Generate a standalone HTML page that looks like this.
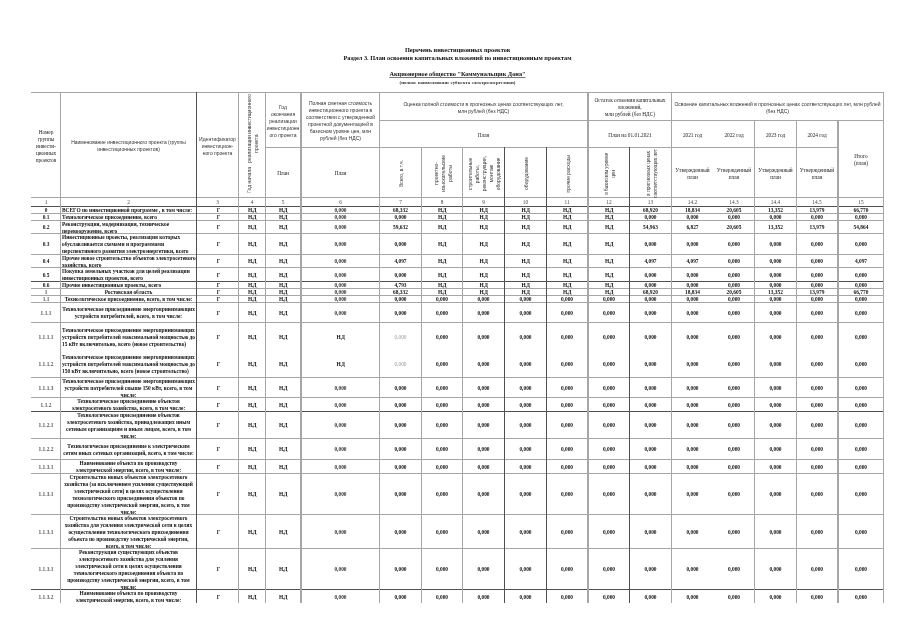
<!DOCTYPE html>
<html lang="ru"><head><meta charset="utf-8"><title>Перечень инвестиционных проектов</title>
<style>
*{margin:0;padding:0;box-sizing:border-box}
html,body{width:905px;height:640px;background:#fff;overflow:hidden}
#p{position:relative;width:905px;height:640px;background:#fff}
.l{position:absolute}
.c{position:absolute;display:flex;align-items:center;justify-content:center;text-align:center;overflow:visible;white-space:nowrap}
.c span{display:block}
.hd{font-family:"Liberation Sans",sans-serif;font-size:5px;line-height:7px;color:#333;padding-top:2.4px}
.hd.sf{font-family:"Liberation Serif",serif;font-size:5.3px;color:#222}
.hd.dk{color:#111}
.hd.rot{padding-top:2px;padding-left:2.5px}
.rot span{writing-mode:vertical-rl;transform:rotate(180deg)}
.num{font-family:"Liberation Serif",serif;font-size:5.3px;line-height:7px;color:#444;padding-top:1px}
.lab{font-family:"Liberation Serif",serif;font-weight:bold;font-size:5.4px;line-height:7px;color:#555;padding-top:1.4px}
.lab.bb{font-weight:bold;color:#111}
.t{font-family:"Liberation Serif",serif;font-size:5.7px;line-height:7px;color:#111;padding:1.4px 1px 0 1px}
.t.m{font-weight:bold;font-size:5.4px}
.t.jl{justify-content:flex-start;text-align:left}
.t.b{font-weight:bold;font-size:5.4px}
.t.left{justify-content:flex-start;text-align:left}
.v{font-family:"Liberation Serif",serif;font-weight:bold;font-size:5.4px;line-height:7px;color:#111;padding-top:1.8px}
.v.g{padding-left:2px;color:#222}
.v.lt{font-weight:normal;color:#999}
.v.nd{font-size:5.4px;letter-spacing:-0.45px}
.v.c6{font-size:5.4px;color:#333}
.tt{position:absolute;left:0;width:915px;text-align:center;font-family:"Liberation Serif",serif;font-weight:bold;font-size:6.3px;line-height:8px;color:#111;white-space:nowrap}
.ts{position:absolute;left:0;width:915px;text-align:center;font-family:"Liberation Serif",serif;font-weight:bold;font-size:4.9px;line-height:6px;color:#333;white-space:nowrap}
.tt u{text-decoration-color:#777}
</style></head>
<body><div id="p">

<div class="tt" style="top:46px">Перечень инвестиционных проектов</div>
<div class="tt" style="top:54px">Раздел 3. План освоения капитальных вложений по инвестиционным проектам</div>
<div class="tt" style="top:70px"><u>Акционерное общество "Коммунальщик Дона"</u></div>
<div class="ts" style="top:80px">(полное наименование субъекта электроэнергетики)</div>

<div class="l" style="left:31px;top:92px;width:853px;height:1px;background:#a6a6a6"></div><div class="l" style="left:379px;top:120px;width:505px;height:1px;background:#a6a6a6"></div><div class="l" style="left:265px;top:147px;width:573px;height:1px;background:#a6a6a6"></div><div class="l" style="left:31px;top:197px;width:853px;height:1px;background:#a6a6a6"></div><div class="l" style="left:31px;top:206px;width:853px;height:1px;background:#505050"></div><div class="l" style="left:31px;top:213px;width:853px;height:1px;background:#a6a6a6"></div><div class="l" style="left:31px;top:220px;width:853px;height:1px;background:#a6a6a6"></div><div class="l" style="left:31px;top:233px;width:853px;height:1px;background:#a6a6a6"></div><div class="l" style="left:31px;top:254px;width:853px;height:1px;background:#a6a6a6"></div><div class="l" style="left:31px;top:267px;width:853px;height:1px;background:#a6a6a6"></div><div class="l" style="left:31px;top:281px;width:853px;height:1px;background:#505050"></div><div class="l" style="left:31px;top:288px;width:853px;height:1px;background:#a6a6a6"></div><div class="l" style="left:31px;top:295px;width:853px;height:1px;background:#a6a6a6"></div><div class="l" style="left:31px;top:302px;width:853px;height:1px;background:#a6a6a6"></div><div class="l" style="left:31px;top:322px;width:853px;height:1px;background:#a6a6a6"></div><div class="l" style="left:31px;top:377px;width:853px;height:1px;background:#a6a6a6"></div><div class="l" style="left:31px;top:397px;width:853px;height:1px;background:#a6a6a6"></div><div class="l" style="left:31px;top:411px;width:853px;height:1px;background:#505050"></div><div class="l" style="left:31px;top:438px;width:853px;height:1px;background:#a6a6a6"></div><div class="l" style="left:31px;top:459px;width:853px;height:1px;background:#a6a6a6"></div><div class="l" style="left:31px;top:473px;width:853px;height:1px;background:#a6a6a6"></div><div class="l" style="left:31px;top:514px;width:853px;height:1px;background:#a6a6a6"></div><div class="l" style="left:31px;top:548px;width:853px;height:1px;background:#a6a6a6"></div><div class="l" style="left:31px;top:589px;width:853px;height:1px;background:#505050"></div><div class="l" style="left:60px;top:92px;width:1px;height:511px;background:#a6a6a6"></div><div class="l" style="left:196px;top:92px;width:1px;height:511px;background:#505050"></div><div class="l" style="left:238px;top:92px;width:1px;height:511px;background:#a6a6a6"></div><div class="l" style="left:265px;top:92px;width:1px;height:511px;background:#a6a6a6"></div><div class="l" style="left:300px;top:92px;width:2px;height:511px;background:#a6a6a6"></div><div class="l" style="left:379px;top:92px;width:1px;height:511px;background:#a6a6a6"></div><div class="l" style="left:587px;top:92px;width:2px;height:511px;background:#a6a6a6"></div><div class="l" style="left:671px;top:92px;width:1px;height:511px;background:#a6a6a6"></div><div class="l" style="left:883px;top:92px;width:1px;height:511px;background:#a6a6a6"></div><div class="l" style="left:421px;top:147px;width:1px;height:456px;background:#a6a6a6"></div><div class="l" style="left:462px;top:147px;width:1px;height:456px;background:#a6a6a6"></div><div class="l" style="left:504px;top:147px;width:1px;height:456px;background:#505050"></div><div class="l" style="left:546px;top:147px;width:1px;height:456px;background:#505050"></div><div class="l" style="left:629px;top:147px;width:1px;height:456px;background:#505050"></div><div class="l" style="left:754px;top:120px;width:1px;height:483px;background:#a6a6a6"></div><div class="l" style="left:796px;top:120px;width:1px;height:483px;background:#a6a6a6"></div><div class="l" style="left:837px;top:120px;width:2px;height:483px;background:#a6a6a6"></div><div class="c hd sf" style="left:32px;top:93px;width:28px;height:104px;"><span>Номер<br>группы<br>инвести-<br>ционных<br>проектов</span></div><div class="c hd" style="left:61px;top:93px;width:135px;height:104px;"><span>Наименование инвестиционного проекта (группы<br>инвестиционных проектов)</span></div><div class="c hd" style="left:197px;top:93px;width:41px;height:104px;"><span>Идентификатор<br>инвестицион-<br>ного проекта</span></div><div class="c hd rot" style="left:239px;top:93px;width:26px;height:104px;padding-top:0;padding-bottom:2.4px"><span>Год начала&nbsp;&nbsp; реализации инвестиционного<br>проекта</span></div><div class="c hd" style="left:266px;top:93px;width:34px;height:54px;"><span>Год<br>окончания<br>реализации<br>инвестиционн<br>ого проекта</span></div><div class="c hd sf dk" style="left:266px;top:148px;width:34px;height:49px;"><span>План</span></div><div class="c hd" style="left:302px;top:93px;width:77px;height:54px;"><span>Полная сметная стоимость<br>инвестиционного проекта в<br>соответствии с утвержденной<br>проектной документацией в<br>базисном уровне цен, млн<br>рублей (без НДС)</span></div><div class="c hd sf dk" style="left:302px;top:148px;width:77px;height:49px;"><span>План</span></div><div class="c hd" style="left:380px;top:93px;width:207px;height:27px;"><span>Оценка полной стоимости в прогнозных ценах соответствующих лет,<br>млн рублей (без НДС)</span></div><div class="c hd sf" style="left:380px;top:121px;width:207px;height:26px;"><span>План</span></div><div class="c hd rot" style="left:380px;top:148px;width:41px;height:49px;"><span>Всего, в т.ч.</span></div><div class="c hd rot" style="left:422px;top:148px;width:40px;height:49px;"><span>проектно-<br>изыскательские<br>работы</span></div><div class="c hd rot" style="left:463px;top:148px;width:41px;height:49px;"><span>строительные<br>работы,<br>реконструкция,<br>монтаж<br>оборудования</span></div><div class="c hd rot" style="left:505px;top:148px;width:41px;height:49px;"><span>оборудование</span></div><div class="c hd rot" style="left:547px;top:148px;width:40px;height:49px;"><span>прочие расходы</span></div><div class="c hd sf" style="left:589px;top:93px;width:82px;height:27px;"><span>Остаток освоения капитальных<br>вложений,<br>млн рублей (без НДС)</span></div><div class="c hd sf" style="left:589px;top:121px;width:82px;height:26px;"><span>План на 01.01.2021</span></div><div class="c hd sf rot" style="left:589px;top:148px;width:40px;height:49px;"><span>в базисном уровне<br>цен</span></div><div class="c hd sf rot" style="left:630px;top:148px;width:41px;height:49px;"><span>в прогнозных ценах<br>соответствующих лет</span></div><div class="c hd" style="left:672px;top:93px;width:211px;height:27px;"><span>Освоение капитальных вложений в прогнозных ценах соответствующих лет, млн рублей<br>(без НДС)</span></div><div class="c hd sf" style="left:672px;top:121px;width:41px;height:26px;"><span>2021 год</span></div><div class="c hd sf" style="left:672px;top:148px;width:41px;height:49px;"><span>Утвержденный<br>план</span></div><div class="c hd sf" style="left:714px;top:121px;width:40px;height:26px;"><span>2022 год</span></div><div class="c hd sf" style="left:714px;top:148px;width:40px;height:49px;"><span>Утвержденный<br>план</span></div><div class="c hd sf" style="left:755px;top:121px;width:41px;height:26px;"><span>2023 год</span></div><div class="c hd sf" style="left:755px;top:148px;width:41px;height:49px;"><span>Утвержденный<br>план</span></div><div class="c hd sf" style="left:797px;top:121px;width:40px;height:26px;"><span>2024 год</span></div><div class="c hd sf" style="left:797px;top:148px;width:40px;height:49px;"><span>Утвержденный<br>план</span></div><div class="c hd sf" style="left:839px;top:121px;width:44px;height:76px;"><span>Итого<br>(план)</span></div><div class="c num" style="left:32px;top:198px;width:28px;height:8px;"><span>1</span></div><div class="c num" style="left:61px;top:198px;width:135px;height:8px;"><span>2</span></div><div class="c num" style="left:197px;top:198px;width:41px;height:8px;"><span>3</span></div><div class="c num" style="left:239px;top:198px;width:26px;height:8px;"><span>4</span></div><div class="c num" style="left:266px;top:198px;width:34px;height:8px;"><span>5</span></div><div class="c num" style="left:302px;top:198px;width:77px;height:8px;"><span>6</span></div><div class="c num" style="left:380px;top:198px;width:41px;height:8px;"><span>7</span></div><div class="c num" style="left:422px;top:198px;width:40px;height:8px;"><span>8</span></div><div class="c num" style="left:463px;top:198px;width:41px;height:8px;"><span>9</span></div><div class="c num" style="left:505px;top:198px;width:41px;height:8px;"><span>10</span></div><div class="c num" style="left:547px;top:198px;width:40px;height:8px;"><span>11</span></div><div class="c num" style="left:589px;top:198px;width:40px;height:8px;"><span>12</span></div><div class="c num" style="left:630px;top:198px;width:41px;height:8px;"><span>13</span></div><div class="c num" style="left:672px;top:198px;width:41px;height:8px;"><span>14.2</span></div><div class="c num" style="left:714px;top:198px;width:40px;height:8px;"><span>14.3</span></div><div class="c num" style="left:755px;top:198px;width:41px;height:8px;"><span>14.4</span></div><div class="c num" style="left:797px;top:198px;width:40px;height:8px;"><span>14.5</span></div><div class="c num" style="left:839px;top:198px;width:44px;height:8px;"><span>15</span></div><div class="c lab bb" style="left:32px;top:207px;width:28px;height:6px;"><span>0</span></div><div class="c t b left" style="left:61px;top:207px;width:135px;height:6px;"><span>ВСЕГО по инвестиционной программе , в том числе:</span></div><div class="c v g" style="left:197px;top:207px;width:41px;height:6px;"><span>Г</span></div><div class="c v nd" style="left:239px;top:207px;width:26px;height:6px;"><span>Н.Д</span></div><div class="c v nd" style="left:266px;top:207px;width:34px;height:6px;"><span>Н.Д</span></div><div class="c v c6" style="left:302px;top:207px;width:77px;height:6px;"><span>0,000</span></div><div class="c v" style="left:380px;top:207px;width:41px;height:6px;"><span>68,332</span></div><div class="c v nd" style="left:422px;top:207px;width:40px;height:6px;"><span>Н.Д</span></div><div class="c v nd" style="left:463px;top:207px;width:41px;height:6px;"><span>Н.Д</span></div><div class="c v nd" style="left:505px;top:207px;width:41px;height:6px;"><span>Н.Д</span></div><div class="c v nd" style="left:547px;top:207px;width:40px;height:6px;"><span>Н.Д</span></div><div class="c v nd" style="left:589px;top:207px;width:40px;height:6px;"><span>Н.Д</span></div><div class="c v" style="left:630px;top:207px;width:41px;height:6px;"><span>68,920</span></div><div class="c v" style="left:672px;top:207px;width:41px;height:6px;"><span>18,834</span></div><div class="c v" style="left:714px;top:207px;width:40px;height:6px;"><span>20,605</span></div><div class="c v" style="left:755px;top:207px;width:41px;height:6px;"><span>13,352</span></div><div class="c v" style="left:797px;top:207px;width:40px;height:6px;"><span>13,979</span></div><div class="c v" style="left:839px;top:207px;width:44px;height:6px;"><span>66,770</span></div><div class="c lab bb" style="left:32px;top:214px;width:28px;height:6px;"><span>0.1</span></div><div class="c t b left" style="left:61px;top:214px;width:135px;height:6px;"><span>Технологическое присоединение, всего</span></div><div class="c v g" style="left:197px;top:214px;width:41px;height:6px;"><span>Г</span></div><div class="c v nd" style="left:239px;top:214px;width:26px;height:6px;"><span>Н.Д</span></div><div class="c v nd" style="left:266px;top:214px;width:34px;height:6px;"><span>Н.Д</span></div><div class="c v c6" style="left:302px;top:214px;width:77px;height:6px;"><span>0,000</span></div><div class="c v" style="left:380px;top:214px;width:41px;height:6px;"><span>0,000</span></div><div class="c v nd" style="left:422px;top:214px;width:40px;height:6px;"><span>Н.Д</span></div><div class="c v nd" style="left:463px;top:214px;width:41px;height:6px;"><span>Н.Д</span></div><div class="c v nd" style="left:505px;top:214px;width:41px;height:6px;"><span>Н.Д</span></div><div class="c v nd" style="left:547px;top:214px;width:40px;height:6px;"><span>Н.Д</span></div><div class="c v nd" style="left:589px;top:214px;width:40px;height:6px;"><span>Н.Д</span></div><div class="c v" style="left:630px;top:214px;width:41px;height:6px;"><span>0,000</span></div><div class="c v" style="left:672px;top:214px;width:41px;height:6px;"><span>0,000</span></div><div class="c v" style="left:714px;top:214px;width:40px;height:6px;"><span>0,000</span></div><div class="c v" style="left:755px;top:214px;width:41px;height:6px;"><span>0,000</span></div><div class="c v" style="left:797px;top:214px;width:40px;height:6px;"><span>0,000</span></div><div class="c v" style="left:839px;top:214px;width:44px;height:6px;"><span>0,000</span></div><div class="c lab bb" style="left:32px;top:221px;width:28px;height:12px;"><span>0.2</span></div><div class="c t b left" style="left:61px;top:221px;width:135px;height:12px;"><span>Реконструкция, модернизация, техническое<br>перевооружение, всего</span></div><div class="c v g" style="left:197px;top:221px;width:41px;height:12px;"><span>Г</span></div><div class="c v nd" style="left:239px;top:221px;width:26px;height:12px;"><span>Н.Д</span></div><div class="c v nd" style="left:266px;top:221px;width:34px;height:12px;"><span>Н.Д</span></div><div class="c v c6" style="left:302px;top:221px;width:77px;height:12px;"><span>0,000</span></div><div class="c v" style="left:380px;top:221px;width:41px;height:12px;"><span>59,632</span></div><div class="c v nd" style="left:422px;top:221px;width:40px;height:12px;"><span>Н.Д</span></div><div class="c v nd" style="left:463px;top:221px;width:41px;height:12px;"><span>Н.Д</span></div><div class="c v nd" style="left:505px;top:221px;width:41px;height:12px;"><span>Н.Д</span></div><div class="c v nd" style="left:547px;top:221px;width:40px;height:12px;"><span>Н.Д</span></div><div class="c v nd" style="left:589px;top:221px;width:40px;height:12px;"><span>Н.Д</span></div><div class="c v" style="left:630px;top:221px;width:41px;height:12px;"><span>54,963</span></div><div class="c v" style="left:672px;top:221px;width:41px;height:12px;"><span>6,827</span></div><div class="c v" style="left:714px;top:221px;width:40px;height:12px;"><span>20,605</span></div><div class="c v" style="left:755px;top:221px;width:41px;height:12px;"><span>13,352</span></div><div class="c v" style="left:797px;top:221px;width:40px;height:12px;"><span>13,979</span></div><div class="c v" style="left:839px;top:221px;width:44px;height:12px;"><span>54,864</span></div><div class="c lab bb" style="left:32px;top:234px;width:28px;height:20px;"><span>0.3</span></div><div class="c t b left" style="left:61px;top:234px;width:135px;height:20px;"><span>Инвестиционные проекты, реализация которых<br>обуславливается схемами и программами<br>перспективного развития электроэнергетики, всего</span></div><div class="c v g" style="left:197px;top:234px;width:41px;height:20px;"><span>Г</span></div><div class="c v nd" style="left:239px;top:234px;width:26px;height:20px;"><span>Н.Д</span></div><div class="c v nd" style="left:266px;top:234px;width:34px;height:20px;"><span>Н.Д</span></div><div class="c v c6" style="left:302px;top:234px;width:77px;height:20px;"><span>0,000</span></div><div class="c v" style="left:380px;top:234px;width:41px;height:20px;"><span>0,000</span></div><div class="c v nd" style="left:422px;top:234px;width:40px;height:20px;"><span>Н.Д</span></div><div class="c v nd" style="left:463px;top:234px;width:41px;height:20px;"><span>Н.Д</span></div><div class="c v nd" style="left:505px;top:234px;width:41px;height:20px;"><span>Н.Д</span></div><div class="c v nd" style="left:547px;top:234px;width:40px;height:20px;"><span>Н.Д</span></div><div class="c v nd" style="left:589px;top:234px;width:40px;height:20px;"><span>Н.Д</span></div><div class="c v" style="left:630px;top:234px;width:41px;height:20px;"><span>0,000</span></div><div class="c v" style="left:672px;top:234px;width:41px;height:20px;"><span>0,000</span></div><div class="c v" style="left:714px;top:234px;width:40px;height:20px;"><span>0,000</span></div><div class="c v" style="left:755px;top:234px;width:41px;height:20px;"><span>0,000</span></div><div class="c v" style="left:797px;top:234px;width:40px;height:20px;"><span>0,000</span></div><div class="c v" style="left:839px;top:234px;width:44px;height:20px;"><span>0,000</span></div><div class="c lab bb" style="left:32px;top:255px;width:28px;height:12px;"><span>0.4</span></div><div class="c t b left" style="left:61px;top:255px;width:135px;height:12px;"><span>Прочее новое строительство объектов электросетевого<br>хозяйства, всего</span></div><div class="c v g" style="left:197px;top:255px;width:41px;height:12px;"><span>Г</span></div><div class="c v nd" style="left:239px;top:255px;width:26px;height:12px;"><span>Н.Д</span></div><div class="c v nd" style="left:266px;top:255px;width:34px;height:12px;"><span>Н.Д</span></div><div class="c v c6" style="left:302px;top:255px;width:77px;height:12px;"><span>0,000</span></div><div class="c v" style="left:380px;top:255px;width:41px;height:12px;"><span>4,097</span></div><div class="c v nd" style="left:422px;top:255px;width:40px;height:12px;"><span>Н.Д</span></div><div class="c v nd" style="left:463px;top:255px;width:41px;height:12px;"><span>Н.Д</span></div><div class="c v nd" style="left:505px;top:255px;width:41px;height:12px;"><span>Н.Д</span></div><div class="c v nd" style="left:547px;top:255px;width:40px;height:12px;"><span>Н.Д</span></div><div class="c v nd" style="left:589px;top:255px;width:40px;height:12px;"><span>Н.Д</span></div><div class="c v" style="left:630px;top:255px;width:41px;height:12px;"><span>4,097</span></div><div class="c v" style="left:672px;top:255px;width:41px;height:12px;"><span>4,097</span></div><div class="c v" style="left:714px;top:255px;width:40px;height:12px;"><span>0,000</span></div><div class="c v" style="left:755px;top:255px;width:41px;height:12px;"><span>0,000</span></div><div class="c v" style="left:797px;top:255px;width:40px;height:12px;"><span>0,000</span></div><div class="c v" style="left:839px;top:255px;width:44px;height:12px;"><span>4,097</span></div><div class="c lab bb" style="left:32px;top:268px;width:28px;height:13px;"><span>0.5</span></div><div class="c t b left" style="left:61px;top:268px;width:135px;height:13px;"><span>Покупка земельных участков для целей реализации<br>инвестиционных проектов, всего</span></div><div class="c v g" style="left:197px;top:268px;width:41px;height:13px;"><span>Г</span></div><div class="c v nd" style="left:239px;top:268px;width:26px;height:13px;"><span>Н.Д</span></div><div class="c v nd" style="left:266px;top:268px;width:34px;height:13px;"><span>Н.Д</span></div><div class="c v c6" style="left:302px;top:268px;width:77px;height:13px;"><span>0,000</span></div><div class="c v" style="left:380px;top:268px;width:41px;height:13px;"><span>0,000</span></div><div class="c v nd" style="left:422px;top:268px;width:40px;height:13px;"><span>Н.Д</span></div><div class="c v nd" style="left:463px;top:268px;width:41px;height:13px;"><span>Н.Д</span></div><div class="c v nd" style="left:505px;top:268px;width:41px;height:13px;"><span>Н.Д</span></div><div class="c v nd" style="left:547px;top:268px;width:40px;height:13px;"><span>Н.Д</span></div><div class="c v nd" style="left:589px;top:268px;width:40px;height:13px;"><span>Н.Д</span></div><div class="c v" style="left:630px;top:268px;width:41px;height:13px;"><span>0,000</span></div><div class="c v" style="left:672px;top:268px;width:41px;height:13px;"><span>0,000</span></div><div class="c v" style="left:714px;top:268px;width:40px;height:13px;"><span>0,000</span></div><div class="c v" style="left:755px;top:268px;width:41px;height:13px;"><span>0,000</span></div><div class="c v" style="left:797px;top:268px;width:40px;height:13px;"><span>0,000</span></div><div class="c v" style="left:839px;top:268px;width:44px;height:13px;"><span>0,000</span></div><div class="c lab bb" style="left:32px;top:282px;width:28px;height:6px;"><span>0.6</span></div><div class="c t b left" style="left:61px;top:282px;width:135px;height:6px;"><span>Прочие инвестиционные проекты, всего</span></div><div class="c v g" style="left:197px;top:282px;width:41px;height:6px;"><span>Г</span></div><div class="c v nd" style="left:239px;top:282px;width:26px;height:6px;"><span>Н.Д</span></div><div class="c v nd" style="left:266px;top:282px;width:34px;height:6px;"><span>Н.Д</span></div><div class="c v c6" style="left:302px;top:282px;width:77px;height:6px;"><span>0,000</span></div><div class="c v" style="left:380px;top:282px;width:41px;height:6px;"><span>4,793</span></div><div class="c v nd" style="left:422px;top:282px;width:40px;height:6px;"><span>Н.Д</span></div><div class="c v nd" style="left:463px;top:282px;width:41px;height:6px;"><span>Н.Д</span></div><div class="c v nd" style="left:505px;top:282px;width:41px;height:6px;"><span>Н.Д</span></div><div class="c v nd" style="left:547px;top:282px;width:40px;height:6px;"><span>Н.Д</span></div><div class="c v nd" style="left:589px;top:282px;width:40px;height:6px;"><span>Н.Д</span></div><div class="c v" style="left:630px;top:282px;width:41px;height:6px;"><span>0,000</span></div><div class="c v" style="left:672px;top:282px;width:41px;height:6px;"><span>0,000</span></div><div class="c v" style="left:714px;top:282px;width:40px;height:6px;"><span>0,000</span></div><div class="c v" style="left:755px;top:282px;width:41px;height:6px;"><span>0,000</span></div><div class="c v" style="left:797px;top:282px;width:40px;height:6px;"><span>0,000</span></div><div class="c v" style="left:839px;top:282px;width:44px;height:6px;"><span>0,000</span></div><div class="c lab" style="left:32px;top:289px;width:28px;height:6px;"><span>1</span></div><div class="c t r m" style="left:61px;top:289px;width:135px;height:6px;"><span>Ростовская область</span></div><div class="c v g" style="left:197px;top:289px;width:41px;height:6px;"><span>Г</span></div><div class="c v nd" style="left:239px;top:289px;width:26px;height:6px;"><span>Н.Д</span></div><div class="c v nd" style="left:266px;top:289px;width:34px;height:6px;"><span>Н.Д</span></div><div class="c v c6" style="left:302px;top:289px;width:77px;height:6px;"><span>0,000</span></div><div class="c v" style="left:380px;top:289px;width:41px;height:6px;"><span>68,332</span></div><div class="c v nd" style="left:422px;top:289px;width:40px;height:6px;"><span>Н.Д</span></div><div class="c v nd" style="left:463px;top:289px;width:41px;height:6px;"><span>Н.Д</span></div><div class="c v nd" style="left:505px;top:289px;width:41px;height:6px;"><span>Н.Д</span></div><div class="c v nd" style="left:547px;top:289px;width:40px;height:6px;"><span>Н.Д</span></div><div class="c v nd" style="left:589px;top:289px;width:40px;height:6px;"><span>Н.Д</span></div><div class="c v" style="left:630px;top:289px;width:41px;height:6px;"><span>68,920</span></div><div class="c v" style="left:672px;top:289px;width:41px;height:6px;"><span>18,834</span></div><div class="c v" style="left:714px;top:289px;width:40px;height:6px;"><span>20,605</span></div><div class="c v" style="left:755px;top:289px;width:41px;height:6px;"><span>13,352</span></div><div class="c v" style="left:797px;top:289px;width:40px;height:6px;"><span>13,979</span></div><div class="c v" style="left:839px;top:289px;width:44px;height:6px;"><span>66,770</span></div><div class="c lab" style="left:32px;top:296px;width:28px;height:6px;"><span>1.1</span></div><div class="c t r m" style="left:61px;top:296px;width:135px;height:6px;"><span>Технологическое присоединение, всего, в том числе:</span></div><div class="c v g" style="left:197px;top:296px;width:41px;height:6px;"><span>Г</span></div><div class="c v nd" style="left:239px;top:296px;width:26px;height:6px;"><span>Н.Д</span></div><div class="c v nd" style="left:266px;top:296px;width:34px;height:6px;"><span>Н.Д</span></div><div class="c v c6" style="left:302px;top:296px;width:77px;height:6px;"><span>0,000</span></div><div class="c v" style="left:380px;top:296px;width:41px;height:6px;"><span>0,000</span></div><div class="c v" style="left:422px;top:296px;width:40px;height:6px;"><span>0,000</span></div><div class="c v" style="left:463px;top:296px;width:41px;height:6px;"><span>0,000</span></div><div class="c v" style="left:505px;top:296px;width:41px;height:6px;"><span>0,000</span></div><div class="c v" style="left:547px;top:296px;width:40px;height:6px;"><span>0,000</span></div><div class="c v" style="left:589px;top:296px;width:40px;height:6px;"><span>0,000</span></div><div class="c v" style="left:630px;top:296px;width:41px;height:6px;"><span>0,000</span></div><div class="c v" style="left:672px;top:296px;width:41px;height:6px;"><span>0,000</span></div><div class="c v" style="left:714px;top:296px;width:40px;height:6px;"><span>0,000</span></div><div class="c v" style="left:755px;top:296px;width:41px;height:6px;"><span>0,000</span></div><div class="c v" style="left:797px;top:296px;width:40px;height:6px;"><span>0,000</span></div><div class="c v" style="left:839px;top:296px;width:44px;height:6px;"><span>0,000</span></div><div class="c lab" style="left:32px;top:303px;width:28px;height:19px;"><span>1.1.1</span></div><div class="c t r m" style="left:61px;top:303px;width:135px;height:19px;"><span>Технологическое присоединение энергопринимающих<br>устройств потребителей, всего, в том числе:</span></div><div class="c v g" style="left:197px;top:303px;width:41px;height:19px;"><span>Г</span></div><div class="c v nd" style="left:239px;top:303px;width:26px;height:19px;"><span>Н.Д</span></div><div class="c v nd" style="left:266px;top:303px;width:34px;height:19px;"><span>Н.Д</span></div><div class="c v c6" style="left:302px;top:303px;width:77px;height:19px;"><span>0,000</span></div><div class="c v" style="left:380px;top:303px;width:41px;height:19px;"><span>0,000</span></div><div class="c v" style="left:422px;top:303px;width:40px;height:19px;"><span>0,000</span></div><div class="c v" style="left:463px;top:303px;width:41px;height:19px;"><span>0,000</span></div><div class="c v" style="left:505px;top:303px;width:41px;height:19px;"><span>0,000</span></div><div class="c v" style="left:547px;top:303px;width:40px;height:19px;"><span>0,000</span></div><div class="c v" style="left:589px;top:303px;width:40px;height:19px;"><span>0,000</span></div><div class="c v" style="left:630px;top:303px;width:41px;height:19px;"><span>0,000</span></div><div class="c v" style="left:672px;top:303px;width:41px;height:19px;"><span>0,000</span></div><div class="c v" style="left:714px;top:303px;width:40px;height:19px;"><span>0,000</span></div><div class="c v" style="left:755px;top:303px;width:41px;height:19px;"><span>0,000</span></div><div class="c v" style="left:797px;top:303px;width:40px;height:19px;"><span>0,000</span></div><div class="c v" style="left:839px;top:303px;width:44px;height:19px;"><span>0,000</span></div><div class="c lab" style="left:32px;top:323px;width:28px;height:27px;"><span>1.1.1.1</span></div><div class="c t r m jl" style="left:61px;top:323px;width:135px;height:27px;"><span>Технологическое присоединение энергопринимающих<br>устройств потребителей максимальной мощностью до<br>15 кВт включительно, всего (новое строительство)</span></div><div class="c v g" style="left:197px;top:323px;width:41px;height:27px;"><span>Г</span></div><div class="c v nd" style="left:239px;top:323px;width:26px;height:27px;"><span>Н.Д</span></div><div class="c v nd" style="left:266px;top:323px;width:34px;height:27px;"><span>Н.Д</span></div><div class="c v nd" style="left:302px;top:323px;width:77px;height:27px;"><span>Н.Д</span></div><div class="c v lt" style="left:380px;top:323px;width:41px;height:27px;"><span>0,000</span></div><div class="c v" style="left:422px;top:323px;width:40px;height:27px;"><span>0,000</span></div><div class="c v" style="left:463px;top:323px;width:41px;height:27px;"><span>0,000</span></div><div class="c v" style="left:505px;top:323px;width:41px;height:27px;"><span>0,000</span></div><div class="c v" style="left:547px;top:323px;width:40px;height:27px;"><span>0,000</span></div><div class="c v" style="left:589px;top:323px;width:40px;height:27px;"><span>0,000</span></div><div class="c v" style="left:630px;top:323px;width:41px;height:27px;"><span>0,000</span></div><div class="c v" style="left:672px;top:323px;width:41px;height:27px;"><span>0,000</span></div><div class="c v" style="left:714px;top:323px;width:40px;height:27px;"><span>0,000</span></div><div class="c v" style="left:755px;top:323px;width:41px;height:27px;"><span>0,000</span></div><div class="c v" style="left:797px;top:323px;width:40px;height:27px;"><span>0,000</span></div><div class="c v" style="left:839px;top:323px;width:44px;height:27px;"><span>0,000</span></div><div class="c lab" style="left:32px;top:350px;width:28px;height:27px;"><span>1.1.1.2</span></div><div class="c t r m jl" style="left:61px;top:350px;width:135px;height:27px;"><span>Технологическое присоединение энергопринимающих<br>устройств потребителей максимальной мощностью до<br>150 кВт включительно, всего (новое строительство)</span></div><div class="c v g" style="left:197px;top:350px;width:41px;height:27px;"><span>Г</span></div><div class="c v nd" style="left:239px;top:350px;width:26px;height:27px;"><span>Н.Д</span></div><div class="c v nd" style="left:266px;top:350px;width:34px;height:27px;"><span>Н.Д</span></div><div class="c v nd" style="left:302px;top:350px;width:77px;height:27px;"><span>Н.Д</span></div><div class="c v lt" style="left:380px;top:350px;width:41px;height:27px;"><span>0,000</span></div><div class="c v" style="left:422px;top:350px;width:40px;height:27px;"><span>0,000</span></div><div class="c v" style="left:463px;top:350px;width:41px;height:27px;"><span>0,000</span></div><div class="c v" style="left:505px;top:350px;width:41px;height:27px;"><span>0,000</span></div><div class="c v" style="left:547px;top:350px;width:40px;height:27px;"><span>0,000</span></div><div class="c v" style="left:589px;top:350px;width:40px;height:27px;"><span>0,000</span></div><div class="c v" style="left:630px;top:350px;width:41px;height:27px;"><span>0,000</span></div><div class="c v" style="left:672px;top:350px;width:41px;height:27px;"><span>0,000</span></div><div class="c v" style="left:714px;top:350px;width:40px;height:27px;"><span>0,000</span></div><div class="c v" style="left:755px;top:350px;width:41px;height:27px;"><span>0,000</span></div><div class="c v" style="left:797px;top:350px;width:40px;height:27px;"><span>0,000</span></div><div class="c v" style="left:839px;top:350px;width:44px;height:27px;"><span>0,000</span></div><div class="c lab" style="left:32px;top:378px;width:28px;height:19px;"><span>1.1.1.3</span></div><div class="c t r m" style="left:61px;top:378px;width:135px;height:19px;"><span>Технологическое присоединение энергопринимающих<br>устройств потребителей свыше 150 кВт, всего, в том<br>числе:</span></div><div class="c v g" style="left:197px;top:378px;width:41px;height:19px;"><span>Г</span></div><div class="c v nd" style="left:239px;top:378px;width:26px;height:19px;"><span>Н.Д</span></div><div class="c v nd" style="left:266px;top:378px;width:34px;height:19px;"><span>Н.Д</span></div><div class="c v c6" style="left:302px;top:378px;width:77px;height:19px;"><span>0,000</span></div><div class="c v" style="left:380px;top:378px;width:41px;height:19px;"><span>0,000</span></div><div class="c v" style="left:422px;top:378px;width:40px;height:19px;"><span>0,000</span></div><div class="c v" style="left:463px;top:378px;width:41px;height:19px;"><span>0,000</span></div><div class="c v" style="left:505px;top:378px;width:41px;height:19px;"><span>0,000</span></div><div class="c v" style="left:547px;top:378px;width:40px;height:19px;"><span>0,000</span></div><div class="c v" style="left:589px;top:378px;width:40px;height:19px;"><span>0,000</span></div><div class="c v" style="left:630px;top:378px;width:41px;height:19px;"><span>0,000</span></div><div class="c v" style="left:672px;top:378px;width:41px;height:19px;"><span>0,000</span></div><div class="c v" style="left:714px;top:378px;width:40px;height:19px;"><span>0,000</span></div><div class="c v" style="left:755px;top:378px;width:41px;height:19px;"><span>0,000</span></div><div class="c v" style="left:797px;top:378px;width:40px;height:19px;"><span>0,000</span></div><div class="c v" style="left:839px;top:378px;width:44px;height:19px;"><span>0,000</span></div><div class="c lab" style="left:32px;top:398px;width:28px;height:13px;"><span>1.1.2</span></div><div class="c t r m" style="left:61px;top:398px;width:135px;height:13px;"><span>Технологическое присоединение объектов<br>электросетевого хозяйства, всего, в том числе:</span></div><div class="c v g" style="left:197px;top:398px;width:41px;height:13px;"><span>Г</span></div><div class="c v nd" style="left:239px;top:398px;width:26px;height:13px;"><span>Н.Д</span></div><div class="c v nd" style="left:266px;top:398px;width:34px;height:13px;"><span>Н.Д</span></div><div class="c v c6" style="left:302px;top:398px;width:77px;height:13px;"><span>0,000</span></div><div class="c v" style="left:380px;top:398px;width:41px;height:13px;"><span>0,000</span></div><div class="c v" style="left:422px;top:398px;width:40px;height:13px;"><span>0,000</span></div><div class="c v" style="left:463px;top:398px;width:41px;height:13px;"><span>0,000</span></div><div class="c v" style="left:505px;top:398px;width:41px;height:13px;"><span>0,000</span></div><div class="c v" style="left:547px;top:398px;width:40px;height:13px;"><span>0,000</span></div><div class="c v" style="left:589px;top:398px;width:40px;height:13px;"><span>0,000</span></div><div class="c v" style="left:630px;top:398px;width:41px;height:13px;"><span>0,000</span></div><div class="c v" style="left:672px;top:398px;width:41px;height:13px;"><span>0,000</span></div><div class="c v" style="left:714px;top:398px;width:40px;height:13px;"><span>0,000</span></div><div class="c v" style="left:755px;top:398px;width:41px;height:13px;"><span>0,000</span></div><div class="c v" style="left:797px;top:398px;width:40px;height:13px;"><span>0,000</span></div><div class="c v" style="left:839px;top:398px;width:44px;height:13px;"><span>0,000</span></div><div class="c lab" style="left:32px;top:412px;width:28px;height:26px;"><span>1.1.2.1</span></div><div class="c t r m" style="left:61px;top:412px;width:135px;height:26px;"><span>Технологическое присоединение объектов<br>электросетевого хозяйства, принадлежащих иным<br>сетевым организациям и иным лицам, всего, в том<br>числе:</span></div><div class="c v g" style="left:197px;top:412px;width:41px;height:26px;"><span>Г</span></div><div class="c v nd" style="left:239px;top:412px;width:26px;height:26px;"><span>Н.Д</span></div><div class="c v nd" style="left:266px;top:412px;width:34px;height:26px;"><span>Н.Д</span></div><div class="c v c6" style="left:302px;top:412px;width:77px;height:26px;"><span>0,000</span></div><div class="c v" style="left:380px;top:412px;width:41px;height:26px;"><span>0,000</span></div><div class="c v" style="left:422px;top:412px;width:40px;height:26px;"><span>0,000</span></div><div class="c v" style="left:463px;top:412px;width:41px;height:26px;"><span>0,000</span></div><div class="c v" style="left:505px;top:412px;width:41px;height:26px;"><span>0,000</span></div><div class="c v" style="left:547px;top:412px;width:40px;height:26px;"><span>0,000</span></div><div class="c v" style="left:589px;top:412px;width:40px;height:26px;"><span>0,000</span></div><div class="c v" style="left:630px;top:412px;width:41px;height:26px;"><span>0,000</span></div><div class="c v" style="left:672px;top:412px;width:41px;height:26px;"><span>0,000</span></div><div class="c v" style="left:714px;top:412px;width:40px;height:26px;"><span>0,000</span></div><div class="c v" style="left:755px;top:412px;width:41px;height:26px;"><span>0,000</span></div><div class="c v" style="left:797px;top:412px;width:40px;height:26px;"><span>0,000</span></div><div class="c v" style="left:839px;top:412px;width:44px;height:26px;"><span>0,000</span></div><div class="c lab" style="left:32px;top:439px;width:28px;height:20px;"><span>1.1.2.2</span></div><div class="c t r m" style="left:61px;top:439px;width:135px;height:20px;"><span>Технологическое присоединение к электрическим<br>сетям иных сетевых организаций, всего, в том числе:</span></div><div class="c v g" style="left:197px;top:439px;width:41px;height:20px;"><span>Г</span></div><div class="c v nd" style="left:239px;top:439px;width:26px;height:20px;"><span>Н.Д</span></div><div class="c v nd" style="left:266px;top:439px;width:34px;height:20px;"><span>Н.Д</span></div><div class="c v c6" style="left:302px;top:439px;width:77px;height:20px;"><span>0,000</span></div><div class="c v" style="left:380px;top:439px;width:41px;height:20px;"><span>0,000</span></div><div class="c v" style="left:422px;top:439px;width:40px;height:20px;"><span>0,000</span></div><div class="c v" style="left:463px;top:439px;width:41px;height:20px;"><span>0,000</span></div><div class="c v" style="left:505px;top:439px;width:41px;height:20px;"><span>0,000</span></div><div class="c v" style="left:547px;top:439px;width:40px;height:20px;"><span>0,000</span></div><div class="c v" style="left:589px;top:439px;width:40px;height:20px;"><span>0,000</span></div><div class="c v" style="left:630px;top:439px;width:41px;height:20px;"><span>0,000</span></div><div class="c v" style="left:672px;top:439px;width:41px;height:20px;"><span>0,000</span></div><div class="c v" style="left:714px;top:439px;width:40px;height:20px;"><span>0,000</span></div><div class="c v" style="left:755px;top:439px;width:41px;height:20px;"><span>0,000</span></div><div class="c v" style="left:797px;top:439px;width:40px;height:20px;"><span>0,000</span></div><div class="c v" style="left:839px;top:439px;width:44px;height:20px;"><span>0,000</span></div><div class="c lab" style="left:32px;top:460px;width:28px;height:13px;"><span>1.1.3.1</span></div><div class="c t r m" style="left:61px;top:460px;width:135px;height:13px;"><span>Наименование объекта по производству<br>электрической энергии, всего, в том числе:</span></div><div class="c v g" style="left:197px;top:460px;width:41px;height:13px;"><span>Г</span></div><div class="c v nd" style="left:239px;top:460px;width:26px;height:13px;"><span>Н.Д</span></div><div class="c v nd" style="left:266px;top:460px;width:34px;height:13px;"><span>Н.Д</span></div><div class="c v c6" style="left:302px;top:460px;width:77px;height:13px;"><span>0,000</span></div><div class="c v" style="left:380px;top:460px;width:41px;height:13px;"><span>0,000</span></div><div class="c v" style="left:422px;top:460px;width:40px;height:13px;"><span>0,000</span></div><div class="c v" style="left:463px;top:460px;width:41px;height:13px;"><span>0,000</span></div><div class="c v" style="left:505px;top:460px;width:41px;height:13px;"><span>0,000</span></div><div class="c v" style="left:547px;top:460px;width:40px;height:13px;"><span>0,000</span></div><div class="c v" style="left:589px;top:460px;width:40px;height:13px;"><span>0,000</span></div><div class="c v" style="left:630px;top:460px;width:41px;height:13px;"><span>0,000</span></div><div class="c v" style="left:672px;top:460px;width:41px;height:13px;"><span>0,000</span></div><div class="c v" style="left:714px;top:460px;width:40px;height:13px;"><span>0,000</span></div><div class="c v" style="left:755px;top:460px;width:41px;height:13px;"><span>0,000</span></div><div class="c v" style="left:797px;top:460px;width:40px;height:13px;"><span>0,000</span></div><div class="c v" style="left:839px;top:460px;width:44px;height:13px;"><span>0,000</span></div><div class="c lab" style="left:32px;top:474px;width:28px;height:40px;"><span>1.1.3.1</span></div><div class="c t r m" style="left:61px;top:474px;width:135px;height:40px;"><span>Строительство новых объектов электросетевого<br>хозяйства (за исключением усиления существующей<br>электрической сети) в целях осуществления<br>технологического присоединения объектов по<br>производству электрической энергии, всего, в том<br>числе:</span></div><div class="c v g" style="left:197px;top:474px;width:41px;height:40px;"><span>Г</span></div><div class="c v nd" style="left:239px;top:474px;width:26px;height:40px;"><span>Н.Д</span></div><div class="c v nd" style="left:266px;top:474px;width:34px;height:40px;"><span>Н.Д</span></div><div class="c v c6" style="left:302px;top:474px;width:77px;height:40px;"><span>0,000</span></div><div class="c v" style="left:380px;top:474px;width:41px;height:40px;"><span>0,000</span></div><div class="c v" style="left:422px;top:474px;width:40px;height:40px;"><span>0,000</span></div><div class="c v" style="left:463px;top:474px;width:41px;height:40px;"><span>0,000</span></div><div class="c v" style="left:505px;top:474px;width:41px;height:40px;"><span>0,000</span></div><div class="c v" style="left:547px;top:474px;width:40px;height:40px;"><span>0,000</span></div><div class="c v" style="left:589px;top:474px;width:40px;height:40px;"><span>0,000</span></div><div class="c v" style="left:630px;top:474px;width:41px;height:40px;"><span>0,000</span></div><div class="c v" style="left:672px;top:474px;width:41px;height:40px;"><span>0,000</span></div><div class="c v" style="left:714px;top:474px;width:40px;height:40px;"><span>0,000</span></div><div class="c v" style="left:755px;top:474px;width:41px;height:40px;"><span>0,000</span></div><div class="c v" style="left:797px;top:474px;width:40px;height:40px;"><span>0,000</span></div><div class="c v" style="left:839px;top:474px;width:44px;height:40px;"><span>0,000</span></div><div class="c lab" style="left:32px;top:515px;width:28px;height:33px;"><span>1.1.3.1</span></div><div class="c t r m" style="left:61px;top:515px;width:135px;height:33px;"><span>Строительство новых объектов электросетевого<br>хозяйства для усиления электрической сети в целях<br>осуществления технологического присоединения<br>объекта по производству электрической энергии,<br>всего, в том числе:</span></div><div class="c v g" style="left:197px;top:515px;width:41px;height:33px;"><span>Г</span></div><div class="c v nd" style="left:239px;top:515px;width:26px;height:33px;"><span>Н.Д</span></div><div class="c v nd" style="left:266px;top:515px;width:34px;height:33px;"><span>Н.Д</span></div><div class="c v c6" style="left:302px;top:515px;width:77px;height:33px;"><span>0,000</span></div><div class="c v" style="left:380px;top:515px;width:41px;height:33px;"><span>0,000</span></div><div class="c v" style="left:422px;top:515px;width:40px;height:33px;"><span>0,000</span></div><div class="c v" style="left:463px;top:515px;width:41px;height:33px;"><span>0,000</span></div><div class="c v" style="left:505px;top:515px;width:41px;height:33px;"><span>0,000</span></div><div class="c v" style="left:547px;top:515px;width:40px;height:33px;"><span>0,000</span></div><div class="c v" style="left:589px;top:515px;width:40px;height:33px;"><span>0,000</span></div><div class="c v" style="left:630px;top:515px;width:41px;height:33px;"><span>0,000</span></div><div class="c v" style="left:672px;top:515px;width:41px;height:33px;"><span>0,000</span></div><div class="c v" style="left:714px;top:515px;width:40px;height:33px;"><span>0,000</span></div><div class="c v" style="left:755px;top:515px;width:41px;height:33px;"><span>0,000</span></div><div class="c v" style="left:797px;top:515px;width:40px;height:33px;"><span>0,000</span></div><div class="c v" style="left:839px;top:515px;width:44px;height:33px;"><span>0,000</span></div><div class="c lab" style="left:32px;top:549px;width:28px;height:40px;"><span>1.1.3.1</span></div><div class="c t r m" style="left:61px;top:549px;width:135px;height:40px;"><span>Реконструкция существующих объектов<br>электросетевого хозяйства для усиления<br>электрической сети в целях осуществления<br>технологического присоединения объекта по<br>производству электрической энергии, всего, в том<br>числе:</span></div><div class="c v g" style="left:197px;top:549px;width:41px;height:40px;"><span>Г</span></div><div class="c v nd" style="left:239px;top:549px;width:26px;height:40px;"><span>Н.Д</span></div><div class="c v nd" style="left:266px;top:549px;width:34px;height:40px;"><span>Н.Д</span></div><div class="c v c6" style="left:302px;top:549px;width:77px;height:40px;"><span>0,000</span></div><div class="c v" style="left:380px;top:549px;width:41px;height:40px;"><span>0,000</span></div><div class="c v" style="left:422px;top:549px;width:40px;height:40px;"><span>0,000</span></div><div class="c v" style="left:463px;top:549px;width:41px;height:40px;"><span>0,000</span></div><div class="c v" style="left:505px;top:549px;width:41px;height:40px;"><span>0,000</span></div><div class="c v" style="left:547px;top:549px;width:40px;height:40px;"><span>0,000</span></div><div class="c v" style="left:589px;top:549px;width:40px;height:40px;"><span>0,000</span></div><div class="c v" style="left:630px;top:549px;width:41px;height:40px;"><span>0,000</span></div><div class="c v" style="left:672px;top:549px;width:41px;height:40px;"><span>0,000</span></div><div class="c v" style="left:714px;top:549px;width:40px;height:40px;"><span>0,000</span></div><div class="c v" style="left:755px;top:549px;width:41px;height:40px;"><span>0,000</span></div><div class="c v" style="left:797px;top:549px;width:40px;height:40px;"><span>0,000</span></div><div class="c v" style="left:839px;top:549px;width:44px;height:40px;"><span>0,000</span></div><div class="c lab" style="left:32px;top:590px;width:28px;height:13px;"><span>1.1.3.2</span></div><div class="c t r m" style="left:61px;top:590px;width:135px;height:13px;"><span>Наименование объекта по производству<br>электрической энергии, всего, в том числе:</span></div><div class="c v g" style="left:197px;top:590px;width:41px;height:13px;"><span>Г</span></div><div class="c v nd" style="left:239px;top:590px;width:26px;height:13px;"><span>Н.Д</span></div><div class="c v nd" style="left:266px;top:590px;width:34px;height:13px;"><span>Н.Д</span></div><div class="c v c6" style="left:302px;top:590px;width:77px;height:13px;"><span>0,000</span></div><div class="c v" style="left:380px;top:590px;width:41px;height:13px;"><span>0,000</span></div><div class="c v" style="left:422px;top:590px;width:40px;height:13px;"><span>0,000</span></div><div class="c v" style="left:463px;top:590px;width:41px;height:13px;"><span>0,000</span></div><div class="c v" style="left:505px;top:590px;width:41px;height:13px;"><span>0,000</span></div><div class="c v" style="left:547px;top:590px;width:40px;height:13px;"><span>0,000</span></div><div class="c v" style="left:589px;top:590px;width:40px;height:13px;"><span>0,000</span></div><div class="c v" style="left:630px;top:590px;width:41px;height:13px;"><span>0,000</span></div><div class="c v" style="left:672px;top:590px;width:41px;height:13px;"><span>0,000</span></div><div class="c v" style="left:714px;top:590px;width:40px;height:13px;"><span>0,000</span></div><div class="c v" style="left:755px;top:590px;width:41px;height:13px;"><span>0,000</span></div><div class="c v" style="left:797px;top:590px;width:40px;height:13px;"><span>0,000</span></div><div class="c v" style="left:839px;top:590px;width:44px;height:13px;"><span>0,000</span></div>
</div></body></html>
